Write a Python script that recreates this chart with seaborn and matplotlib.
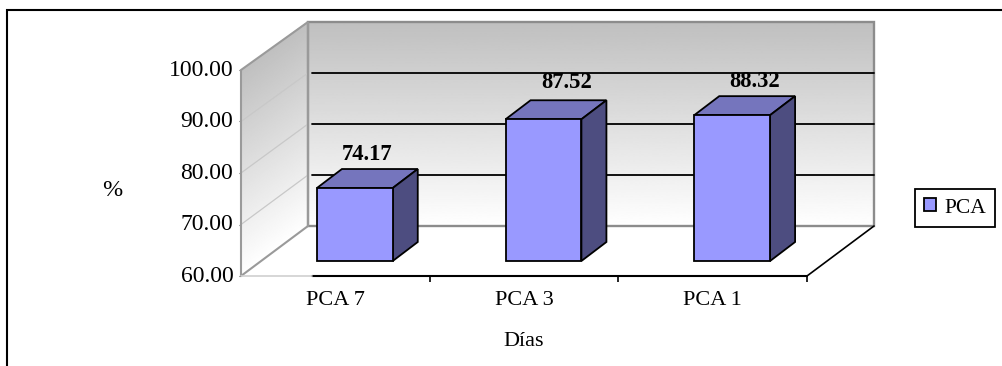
import matplotlib
matplotlib.use("Agg")
import matplotlib.pyplot as plt
import numpy as np
import pandas as pd
import seaborn as sns
from matplotlib.patches import Patch, Polygon, Rectangle
from matplotlib.transforms import Affine2D

categories = ["PCA 7", "PCA 3", "PCA 1"]
values = [74.17, 87.52, 88.32]
y_ticks = [60, 70, 80, 90, 100]
series_name = "PCA"

sns.set_theme(style="white")
plt.rcParams["font.family"] = ["Liberation Serif", "DejaVu Sans"]
plt.rcParams["text.color"] = "black"
plt.rcParams["axes.labelcolor"] = "black"
plt.rcParams["xtick.labelcolor"] = "black"
plt.rcParams["ytick.labelcolor"] = "black"

W, H = 1003, 366
fig = plt.figure(figsize=(W / 100, H / 100), dpi=100, facecolor="white")

# Front plane of the 3D box, placed in figure pixels
left, right, bottom, top = 241, 807, 276, 70
ax = fig.add_axes([left / W, 1 - bottom / H, (right - left) / W, (bottom - top) / H])
ax.patch.set_alpha(0)

df = pd.DataFrame({"category": categories, "value": values})
sns.barplot(data=df, x="category", y="value", color="#9999ff", saturation=1,
            width=0.402, edgecolor="black", linewidth=1.3, ax=ax, zorder=5)
ymin, ymax = y_ticks[0], y_ticks[-1]
ax.set_xlim(-0.5, 2.5)
ax.set_ylim(ymin, ymax)

def shifted(dx, dy):
    return ax.transData + Affine2D().translate(dx, dy)

# Depth offsets in pixels: back wall, bar plane, and bar depth
WALL = (67, 50)
BAR = (19.5, 15)
DEPTH = (25, 19)

# Vertical grey-to-white fade shared by both walls
fade = np.linspace(0.75, 1.0, 256).reshape(-1, 1)

# The back wall is drawn slightly shorter than the front plane
base_px = ax.transData.transform((0, ymin))[1]
back = ax.transData + (Affine2D().translate(0, -base_px).scale(1, 204 / 206)
                       .translate(WALL[0], base_px + WALL[1]))
ax.imshow(fade, cmap="gray", vmin=0, vmax=1, aspect="auto", origin="upper",
          extent=(-0.5, 2.5, ymin, ymax), transform=back, zorder=0, clip_on=False)
ax.add_patch(Rectangle((-0.5, ymin), 3, ymax - ymin, fill=False, edgecolor="#8c8c8c",
                       linewidth=1.7, transform=back, clip_on=False, zorder=1))

# Left wall: a unit gradient image sheared onto the side of the box
corners = ax.transData.transform([(-0.5, ymin), (-0.5, ymax)])
wall_h = corners[1][1] - corners[0][1]
shear = Affine2D(np.array([[WALL[0], 0, corners[0][0]],
                           [WALL[1] - 1, wall_h, corners[0][1]],
                           [0, 0, 1]], dtype=float))
ax.imshow(fade, cmap="gray", vmin=0, vmax=1, aspect="auto", origin="upper",
          extent=(0, 1, 0, 1), transform=shear, zorder=0.5, clip_on=False)
back_corners = back.transform([(-0.5, ymin), (-0.5, ymax)])
ax.add_patch(Polygon([corners[0], corners[1], back_corners[1], back_corners[0]],
                     closed=True, fill=False, edgecolor="#9a9a9a", linewidth=1.5,
                     transform=Affine2D(), clip_on=False, zorder=2))
ax.set_xlim(-0.5, 2.5)
ax.set_ylim(ymin, ymax)

# Gridlines across both walls
back_x0 = -0.5 + 4 / ((right - left) / 3)
for tick in y_ticks[1:-1]:
    ax.plot([back_x0, 2.5], [tick, tick], color="black", linewidth=1.3,
            transform=back, clip_on=False, zorder=1.5)
    front_pt = ax.transData.transform((-0.5, tick))
    back_pt = back.transform((-0.5, tick))
    ax.plot([front_pt[0], back_pt[0]], [front_pt[1], back_pt[1]],
            color="#c8c8c8", linewidth=0.9, transform=Affine2D(), clip_on=False, zorder=1.5)

# Extrude each bar to a top face and a side face
label_offsets = [(12.5, 34), (23, 37), (22, 34)]
bar_shift = shifted(*BAR)
for patch, value, (lx, ly) in zip(ax.patches[:len(categories)], values, label_offsets):
    patch.set_y(ymin)
    patch.set_height(value - ymin)
    patch.set_transform(bar_shift)
    patch.set_clip_on(False)
    x0, x1 = patch.get_x(), patch.get_x() + patch.get_width()
    a = bar_shift.transform([(x0, ymin), (x1, ymin), (x1, value), (x0, value)])
    top_face = [a[3], a[2], a[2] + DEPTH, a[3] + DEPTH]
    side_face = [a[1], a[2], a[2] + DEPTH, a[1] + DEPTH]
    ax.add_patch(Polygon(top_face, closed=True, facecolor="#7575bd", edgecolor="black",
                         linewidth=1.3, transform=Affine2D(), clip_on=False, zorder=4))
    ax.add_patch(Polygon(side_face, closed=True, facecolor="#4d4d80", edgecolor="black",
                         linewidth=1.3, transform=Affine2D(), clip_on=False, zorder=4))
    ax.annotate(f"{value:.2f}", xy=((x0 + x1) / 2, value), xycoords=bar_shift,
                xytext=(lx * 0.72, ly * 0.72), textcoords="offset points", ha="center", va="center",
                fontsize=16.3, fontweight="bold", color="black", zorder=6)

# Floor edges and axes
for spine in ax.spines.values():
    spine.set_visible(False)
ax.plot([-0.5 + 71 / 189, 2.5], [ymin, ymin], color="black", linewidth=1.5, clip_on=False, zorder=3)
ax.plot([-0.5, -0.5 + 71 / 189], [ymin, ymin], color="#cfcfcf", linewidth=1.2, clip_on=False, zorder=3)
c = ax.transData.transform((2.5, ymin))
ax.plot([c[0], c[0] + WALL[0]], [c[1], c[1] + WALL[1]], color="black", linewidth=1.2,
        transform=Affine2D(), clip_on=False, zorder=3)

ax.set_yticks(y_ticks, [f"{t:.2f}" for t in y_ticks])
ax.tick_params(axis="y", length=1.5, width=0.8, color="#555555", left=True, pad=4, labelsize=17)
for lab in ax.get_yticklabels():
    lab.set_transform(lab.get_transform() + Affine2D().translate(0, 2))
ax.set_xticks(range(len(categories)), categories)
ax.tick_params(axis="x", bottom=False, pad=5, labelsize=16)
ax.set_xticks([0.5, 1.5, 2.5], minor=True)
ax.tick_params(axis="x", which="minor", bottom=True, length=4, width=1.2, color="black")
ax.set_xlabel("Días", fontsize=16, labelpad=16)
ax.set_ylabel("")
fig.text(112 / W, 1 - 190 / H, "%", fontsize=17.5, ha="center", va="center", color="black")

# Legend box
leg = ax.legend(handles=[Patch(facecolor="#9999ff", edgecolor="black", linewidth=1.3, label=series_name)],
                loc="center left", bbox_to_anchor=(915 / W, 1 - 208 / H), bbox_transform=fig.transFigure,
                fontsize=15.5, frameon=True, fancybox=False, framealpha=1, edgecolor="black",
                handlelength=0.55, handleheight=0.55, handletextpad=0.4, borderpad=0.42, borderaxespad=0)
leg.get_frame().set_linewidth(1.3)

# Outer frame of the chart, open past the right and bottom image edges
fig.add_artist(Rectangle((7 / W, -0.05), 1.1, 1.05 - 10 / H, fill=False, edgecolor="black",
                         linewidth=1.5, transform=fig.transFigure))

fig.savefig("out.png", dpi=100)
